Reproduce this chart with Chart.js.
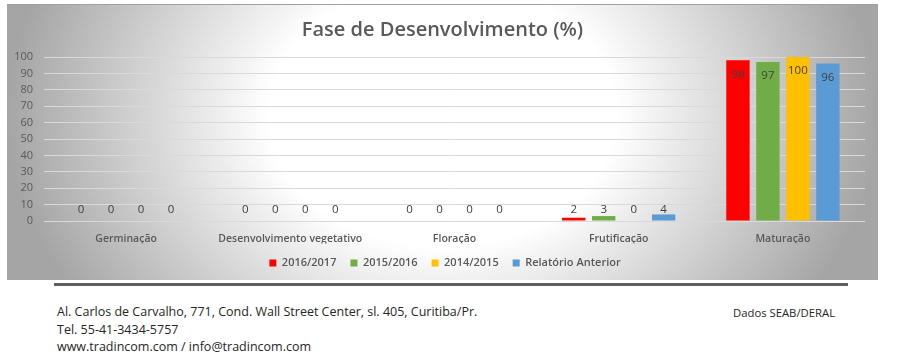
<!DOCTYPE html>
<html>
<head>
<meta charset="utf-8">
<script src="https://cdn.jsdelivr.net/npm/chart.js@4"></script>
<style>
  html, body { margin: 0; padding: 0; background: #ffffff; }
  #page { position: relative; width: 897px; height: 355px; overflow: hidden; background: #fff; }
  #box {
    position: absolute; left: 7px; top: 4px; width: 871px; height: 276px;
    background: radial-gradient(ellipse 50% 120% at 50% 40%, #ffffff 40%, #a5a5a5 100%);
    border-top: 1px solid #a0a0a0;
    box-sizing: border-box;
  }
  #rule { position: absolute; left: 54px; top: 283px; width: 794px; height: 3px; background: #5f5f5f; }
  .foot { position: absolute; font-family: "Open Sans", sans-serif; color: #262626; white-space: nowrap; }
  #addr { left: 57px; top: 303px; font-size: 12.5px; line-height: 17.5px; }
  #src { left: 733px; top: 305px; font-size: 11.3px; }
</style>
</head>
<body>
<div id="page">
  <div id="box"><canvas id="c" width="871" height="276"></canvas></div>
  <div id="rule"></div>
  <div class="foot" id="addr">Al. Carlos de Carvalho, 771, Cond. Wall Street Center, sl. 405, Curitiba/Pr.<br>Tel. 55-41-3434-5757<br>www.tradincom.com / info@tradincom.com</div>
  <div class="foot" id="src">Dados SEAB/DERAL</div>
</div>
<script>
const categories = ["Germinação", "Desenvolvimento vegetativo", "Floração", "Frutificação", "Maturação"];
const seriesNames = ["2016/2017", "2015/2016", "2014/2015", "Relatório Anterior"];
const s2016_2017 = [0, 0, 0, 2, 98];
const s2015_2016 = [0, 0, 0, 3, 97];
const s2014_2015 = [0, 0, 0, 0, 100];
const relatorioAnterior = [0, 0, 0, 4, 96];
const seriesColors = ["#FF0000", "#70AD47", "#FFC000", "#5B9BD5"];
const titleText = "Fase de Desenvolvimento (%)";

const seriesData = [s2016_2017, s2015_2016, s2014_2015, relatorioAnterior];

const dataLabels = {
  id: 'dataLabels',
  afterDatasetsDraw(chart) {
    const ctx = chart.ctx;
    const yScale = chart.scales.y;
    const base = yScale.getPixelForValue(0);
    ctx.save();
    ctx.font = '11.5px "Open Sans", sans-serif';
    ctx.fillStyle = '#404040';
    ctx.textAlign = 'center';
    ctx.textBaseline = 'middle';
    chart.data.datasets.forEach((ds, i) => {
      const meta = chart.getDatasetMeta(i);
      meta.data.forEach((bar, j) => {
        const v = ds.data[j];
        let y = Math.min(base - 11, bar.y - 5);
        if (y - 6 < chart.chartArea.top) y = bar.y + 14;
        ctx.fillText(String(v), bar.x, y);
      });
    });
    ctx.restore();
  }
};

// centre title and legend on the whole box rather than on the padded area
const recenter = {
  id: 'recenter',
  afterLayout(chart) {
    if (chart.titleBlock) { chart.titleBlock.left += 6.5; chart.titleBlock.right += 6.5; }
    if (chart.legend) { chart.legend.left += 9; chart.legend.right += 9; }
  }
};

new Chart(document.getElementById('c'), {
  type: 'bar',
  data: {
    labels: categories,
    datasets: seriesNames.map((name, i) => ({
      label: name,
      data: seriesData[i],
      backgroundColor: seriesColors[i],
      borderWidth: 0,
      categoryPercentage: 0.73,
      barPercentage: 0.78
    }))
  },
  options: {
    responsive: false,
    animation: false,
    devicePixelRatio: 1,
    layout: { padding: { left: 0, right: 13, top: 0, bottom: 2.5 } },
    plugins: {
      title: {
        display: true,
        text: titleText,
        color: '#595959',
        font: { family: '"Open Sans", sans-serif', size: 20, weight: '600' },
        padding: { top: 13, bottom: 15 }
      },
      legend: {
        position: 'bottom',
        labels: {
          boxWidth: 7, boxHeight: 7,
          color: '#595959',
          padding: 14,
          font: { family: '"Open Sans", sans-serif', size: 11, weight: '600' }
        }
      },
      tooltip: { enabled: false }
    },
    scales: {
      x: {
        afterFit(scale) { scale.height = 22.5; },
        grid: { display: false, drawTicks: false },
        border: { display: false },
        ticks: {
          color: '#595959',
          padding: 12,
          maxRotation: 0,
          autoSkip: false,
          font: { family: '"Open Sans", sans-serif', size: 10.5, weight: '600' }
        }
      },
      y: {
        min: 0, max: 100,
        afterFit(scale) { scale.width = 37; },
        grid: { color: '#d9d9d9', lineWidth: 1, drawTicks: false },
        border: { display: false },
        ticks: {
          stepSize: 10,
          autoSkip: false,
          color: '#595959',
          padding: 11,
          font: { family: '"Open Sans", sans-serif', size: 11 }
        }
      }
    }
  },
  plugins: [dataLabels, recenter]
});
</script>
</body>
</html>
